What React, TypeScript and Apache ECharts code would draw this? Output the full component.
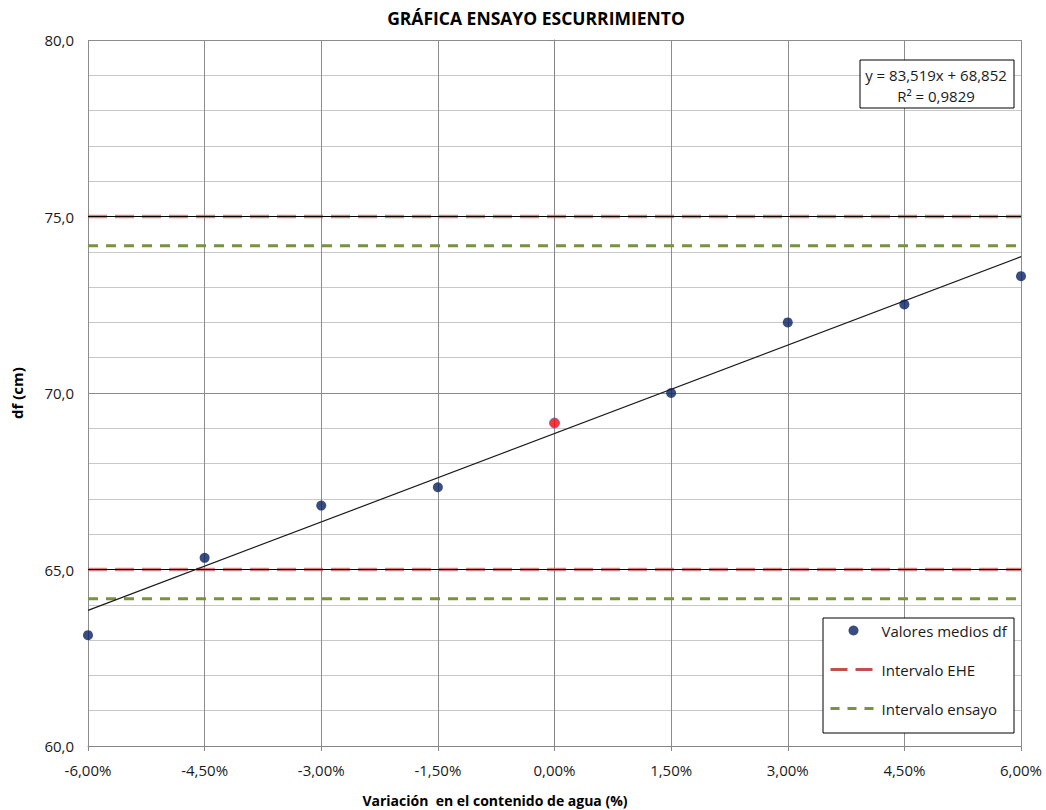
import React, { useEffect, useRef } from "react";
import * as echarts from "echarts";

const xPercent = [-6, -4.5, -3, -1.5, 0, 1.5, 3, 4.5, 6];
const dfValues = [63.14, 65.33, 66.81, 67.33, 69.15, 70.0, 72.0, 72.51, 73.31];
const highlightIndex = 4;
const eheLimits = [75, 65];
const ensayoLimits = [74.17, 64.17];
const trendSlope = 83.519; // per unit fraction
const trendIntercept = 68.852;
const rSquared = "0,9829";
const xRange = [-6, 6];
const yRange = [60, 80];

const FONT = "'Open Sans', 'Liberation Sans', sans-serif";
const TXT = "#1a1a1a";
const RED = "#C0504D";
const GREEN = "#77933C";
const hidden = { color: "rgba(0,0,0,0)", borderWidth: 0, opacity: 0 };

export default function App() {
  const ref = useRef<HTMLDivElement>(null);
  useEffect(() => {
    const chart = echarts.init(ref.current!, undefined, { renderer: "svg" });
    const scatterData = xPercent.map((x, i) =>
      i === highlightIndex
        ? { value: [x, dfValues[i]], itemStyle: { color: "#ff0000", borderColor: "#4a74b8", borderWidth: 1 } }
        : { value: [x, dfValues[i]] }
    );
    const trend = xRange.map((x) => [x, trendIntercept + (trendSlope * x) / 100]);
    const hLine = (y: number) => xRange.map((x) => [x, y]);

    const series: any[] = [];
    eheLimits.forEach((y) => {
      series.push({
        name: "Intervalo EHE",
        type: "line",
        data: hLine(y),
        symbol: "none",
        z: 3,
        lineStyle: { color: RED, width: 3.5, type: [19, 8], opacity: 0.7 },
        itemStyle: { color: RED },
      });
    });
    eheLimits.forEach((y) => {
      series.push({
        name: "Límite",
        type: "line",
        data: hLine(y),
        symbol: "none",
        z: 4,
        lineStyle: { color: "#000000", width: 1 },
      });
    });
    ensayoLimits.forEach((y) => {
      series.push({
        name: "Intervalo ensayo",
        type: "line",
        data: hLine(y),
        symbol: "none",
        z: 3,
        lineStyle: { color: GREEN, width: 3, type: [10, 8] },
        itemStyle: { color: GREEN },
      });
    });
    series.push({
      name: "Lineal (Valores medios df)",
      type: "line",
      data: trend,
      symbol: "none",
      z: 5,
      lineStyle: { color: "#1a1a1a", width: 1.2 },
    });
    series.push({
      name: "Valores medios df",
      type: "scatter",
      data: scatterData,
      symbolSize: 10,
      z: 6,
      itemStyle: { color: "#082060" },
    });

    chart.setOption({
      animation: false,
      backgroundColor: "#ffffff",
      textStyle: { fontFamily: FONT },
      title: {
        text: "GRÁFICA ENSAYO ESCURRIMIENTO",
        left: 531,
        top: 4,
        textAlign: "center",
        textStyle: { fontFamily: FONT, fontSize: 17.5, fontWeight: "bold", color: "#000" },
      },
      grid: { left: 88, right: 25, top: 40, bottom: 64, containLabel: false },
      xAxis: {
        type: "value",
        min: xRange[0],
        max: xRange[1],
        interval: 1.5,
        axisLine: { show: true, onZero: false, lineStyle: { color: "#868686", width: 1 } },
        axisTick: { show: true, length: 5, lineStyle: { color: "#868686" } },
        axisLabel: {
          margin: 16,
          fontFamily: FONT,
          fontSize: 15,
          color: TXT,
          formatter: (v: number) => (Math.abs(v) < 1e-9 ? 0 : v).toFixed(2).replace(".", ",") + "%",
        },
        splitLine: { show: true, lineStyle: { color: "#8c8c8c", width: 1 } },
      },
      yAxis: {
        type: "value",
        min: yRange[0],
        max: yRange[1],
        interval: 5,
        name: "df (cm)",
        nameLocation: "middle",
        nameGap: 64,
        nameRotate: 90,
        nameTextStyle: { fontFamily: FONT, fontSize: 15, fontWeight: "bold", color: "#000" },
        axisLine: { show: true, lineStyle: { color: "#868686", width: 1 } },
        axisTick: { show: true, length: 5, lineStyle: { color: "#868686" } },
        axisLabel: {
          margin: 14,
          fontFamily: FONT,
          fontSize: 15,
          color: TXT,
          formatter: (v: number) => v.toFixed(1).replace(".", ","),
        },
        splitLine: { show: true, lineStyle: { color: "#8c8c8c", width: 1 } },
        minorTick: { show: false, splitNumber: 5 },
        minorSplitLine: { show: true, lineStyle: { color: "#c8c8c8", width: 1 } },
      },
      legend: {
        data: [
          { name: "Valores medios df", itemStyle: { color: "#082060" } },
          {
            name: "Intervalo EHE",
            itemStyle: hidden,
            lineStyle: { color: RED, width: 3, type: [17, 8], opacity: 1 },
          },
          {
            name: "Intervalo ensayo",
            itemStyle: hidden,
            lineStyle: { color: GREEN, width: 3, type: [9, 8], opacity: 1 },
          },
        ],
        orient: "vertical",
        left: 829,
        top: 623,
        padding: 0,
        itemWidth: 46,
        itemHeight: 10,
        itemGap: 24,
        z: 100,
        selectedMode: false,
        textStyle: { fontFamily: FONT, fontSize: 15, color: TXT },
      },
      graphic: [
        {
          type: "rect",
          z: 50,
          shape: { x: 823, y: 618, width: 191, height: 115 },
          style: { fill: "#ffffff", stroke: "#000000", lineWidth: 1 },
        },
        {
          type: "rect",
          z: 50,
          shape: { x: 860, y: 60, width: 154, height: 48 },
          style: { fill: "#ffffff", stroke: "#000000", lineWidth: 1 },
        },
        {
          type: "text",
          z: 51,
          x: 936,
          y: 75,
          style: {
            text: "y = 83,519x + 68,852",
            fill: TXT,
            font: `15px ${FONT}`,
            align: "center",
            verticalAlign: "middle",
          },
        },
        {
          type: "text",
          z: 51,
          x: 936,
          y: 96,
          style: {
            text: "R² = " + rSquared,
            fill: TXT,
            font: `15px ${FONT}`,
            align: "center",
            verticalAlign: "middle",
          },
        },
        {
          type: "text",
          z: 51,
          x: 495,
          y: 800,
          style: {
            text: "Variación  en el contenido de agua (%)",
            fill: "#000",
            font: `bold 14px ${FONT}`,
            align: "center",
            verticalAlign: "middle",
          },
        },
      ],
      series,
    });
    return () => chart.dispose();
  }, []);
  return (
    <div
      ref={ref}
      style={{ position: "fixed", left: 0, top: 0, width: 1046, height: 810 }}
    />
  );
}
